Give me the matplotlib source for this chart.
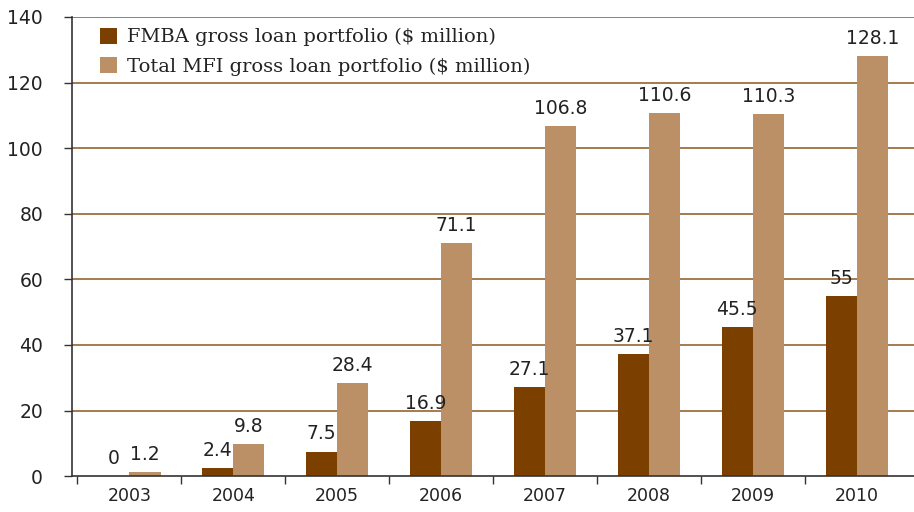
import matplotlib.pyplot as plt
import numpy as np

years = ['2003', '2004', '2005', '2006', '2007', '2008', '2009', '2010']
fmba = [0, 2.4, 7.5, 16.9, 27.1, 37.1, 45.5, 55]
total_mfi = [1.2, 9.8, 28.4, 71.1, 106.8, 110.6, 110.3, 128.1]
fmba_labels = ['0', '2.4', '7.5', '16.9', '27.1', '37.1', '45.5', '55']
mfi_labels = ['1.2', '9.8', '28.4', '71.1', '106.8', '110.6', '110.3', '128.1']

dark = '#7b3f00'
light = '#bc9067'
grid_c = '#9a642f'
axis_c = '#333333'
text_c = '#222222'

fig = plt.figure(figsize=(9.14, 5.12), dpi=100)
ax = fig.add_axes([0.079, 0.070, 0.921, 0.897])

x = np.arange(len(years))
w = 0.3

# 网格线画在柱子后面
for yv in range(20, 141, 20):
    ax.axhline(yv, color=grid_c, linewidth=1.2, zorder=0)

b1 = ax.bar(x - w / 2, fmba, w, color=dark, zorder=2,
            label='FMBA gross loan portfolio ($ million)')
b2 = ax.bar(x + w / 2, total_mfi, w, color=light, zorder=2,
            label='Total MFI gross loan portfolio ($ million)')

for xi, v, s in zip(x, fmba, fmba_labels):
    ax.text(xi - w / 2, v + 2.5, s, ha='center', va='bottom',
            fontsize=13.5, color=text_c)
for xi, v, s in zip(x, total_mfi, mfi_labels):
    ax.text(xi + w / 2, v + 2.5, s, ha='center', va='bottom',
            fontsize=13.5, color=text_c)

ax.set_xlim(-0.55, 7.55)
ax.set_ylim(0, 140)

# x 轴刻度线放在类别分界处，标签放在类别中心
ax.set_xticks(np.arange(-0.5, 7.5, 1.0))
ax.set_xticklabels([])
ax.set_xticks(x, minor=True)
ax.set_xticklabels(years, minor=True, fontsize=12.5, color=text_c)
ax.tick_params(axis='x', which='major', direction='out', length=6,
               width=1, color=axis_c)
ax.tick_params(axis='x', which='minor', length=0, pad=8)

ax.set_yticks(range(0, 141, 20))
ax.tick_params(axis='y', direction='out', length=6, width=1,
               color=axis_c, labelsize=13.5, labelcolor=text_c, pad=15)

for side in ['top', 'right']:
    ax.spines[side].set_visible(False)
for side in ['left', 'bottom']:
    ax.spines[side].set_color(axis_c)
    ax.spines[side].set_linewidth(1.2)

leg = ax.legend(loc='upper left', bbox_to_anchor=(0.02, 1.0), frameon=False,
                prop={'family': 'DejaVu Serif', 'size': 14},
                handlelength=0.9, handleheight=0.9, handletextpad=0.5,
                labelspacing=0.55, borderaxespad=0.15)
for t in leg.get_texts():
    t.set_color(text_c)

fig.savefig('out.png', dpi=100)
